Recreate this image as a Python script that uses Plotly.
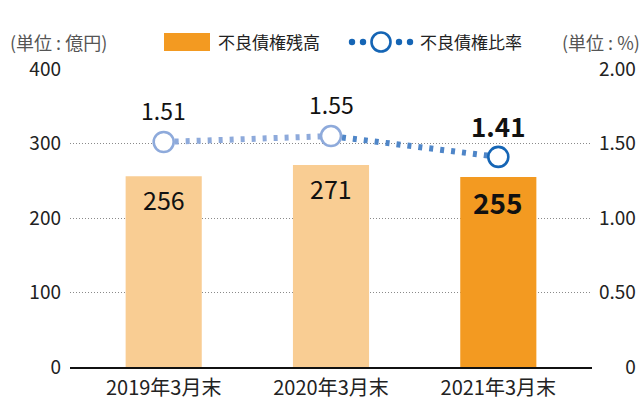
import plotly.graph_objects as go

categories = ["2019年3月末", "2020年3月末", "2021年3月末"]
balance = [256, 271, 255]          # 不良債権残高 (億円)
ratio = [1.51, 1.55, 1.41]         # 不良債権比率 (%)
left_ticks = [0, 100, 200, 300, 400]
right_ticks = [0, 0.5, 1.0, 1.5, 2.0]
right_tick_labels = ["\u2008\u2007\u20070", "0.50", "1.00", "1.50", "2.00"]

W, H = 643, 405
ML, MR, MT, MB = 70, 51, 69, 38
PW, PH = W - ML - MR, H - MT - MB

def px(x):
    return (x - ML) / PW

def py(y):
    return (H - MB - y) / PH

FONT = "Noto Sans CJK JP, Noto Sans, sans-serif"
LIGHT_ORANGE = "#f9cd93"
ORANGE = "#f39a21"
LIGHT_BLUE = "#8eaadb"
MID_BLUE = "#4f86c8"
DARK_BLUE = "#1565b5"

fig = go.Figure()

fig.add_trace(go.Bar(
    x=categories, y=balance,
    marker=dict(color=[LIGHT_ORANGE, LIGHT_ORANGE, ORANGE], line=dict(width=0)),
    width=0.455, yaxis="y", showlegend=False, hoverinfo="skip",
))

fig.add_trace(go.Scatter(
    x=categories[:2], y=ratio[:2], yaxis="y2", mode="lines",
    line=dict(color=LIGHT_BLUE, width=6, dash="4px,7px"),
    showlegend=False, hoverinfo="skip",
))
fig.add_trace(go.Scatter(
    x=categories[1:], y=ratio[1:], yaxis="y2", mode="lines",
    line=dict(color=MID_BLUE, width=6, dash="4px,7px"),
    showlegend=False, hoverinfo="skip",
))
fig.add_trace(go.Scatter(
    x=categories, y=ratio, yaxis="y2", mode="markers",
    marker=dict(size=20, color="white",
                line=dict(color=[LIGHT_BLUE, LIGHT_BLUE, DARK_BLUE], width=2.6)),
    showlegend=False, hoverinfo="skip",
))

annotations = []
for i, (c, v) in enumerate(zip(categories, balance)):
    last = i == len(categories) - 1
    annotations.append(dict(
        x=c, y=v, xref="x", yref="y", text=str(v), showarrow=False,
        yanchor="top", yshift=-3,
        font=dict(family=FONT, size=28 if last else 25, color="#111",
                  weight="bold" if last else "normal"),
    ))
for i, (c, v) in enumerate(zip(categories, ratio)):
    last = i == len(categories) - 1
    annotations.append(dict(
        x=c, y=v, xref="x", yref="y2", text=f"{v:.2f}", showarrow=False,
        yanchor="bottom", yshift=11 if last else 13,
        font=dict(family=FONT, size=26 if last else 23, color="#111",
                  weight="bold" if last else "normal"),
    ))

# unit labels
annotations.append(dict(x=px(8), y=py(42), xref="paper", yref="paper",
                        text="(単位 : 億円)", showarrow=False, xanchor="left",
                        yanchor="middle", font=dict(family=FONT, size=18, color="#555")))
annotations.append(dict(x=px(642), y=py(42), xref="paper", yref="paper",
                        text="(単位 : %)", showarrow=False, xanchor="right",
                        yanchor="middle", font=dict(family=FONT, size=18, color="#555")))
# legend texts
annotations.append(dict(x=px(216), y=py(42), xref="paper", yref="paper",
                        text="不良債権残高", showarrow=False, xanchor="left",
                        yanchor="middle", font=dict(family=FONT, size=17, color="#222")))
annotations.append(dict(x=px(418), y=py(42), xref="paper", yref="paper",
                        text="不良債権比率", showarrow=False, xanchor="left",
                        yanchor="middle", font=dict(family=FONT, size=17, color="#222")))

shapes = [
    dict(type="rect", xref="paper", yref="paper",
         x0=px(164), x1=px(210), y0=py(51), y1=py(33),
         fillcolor=ORANGE, line=dict(width=0)),
]
for cx in [352, 363, 399, 410]:
    shapes.append(dict(type="circle", xref="paper", yref="paper",
                       x0=px(cx - 3.2), x1=px(cx + 3.2), y0=py(42 + 3.2), y1=py(42 - 3.2),
                       fillcolor=DARK_BLUE, line=dict(width=0)))
shapes.append(dict(type="circle", xref="paper", yref="paper",
                   x0=px(371.5), x1=px(390.5), y0=py(51.5), y1=py(32.5),
                   fillcolor="white", line=dict(color=DARK_BLUE, width=2.6)))

fig.update_layout(
    width=W, height=H,
    margin=dict(l=ML, r=MR, t=MT, b=MB, pad=0),
    paper_bgcolor="white", plot_bgcolor="white",
    font=dict(family=FONT, size=19, color="#222"),
    bargap=0.5,
    xaxis=dict(
        type="category", range=[-0.56, 2.56], automargin=False,
        showline=True, linecolor="#111", linewidth=1.5,
        showgrid=False, ticks="", tickfont=dict(size=20, color="#222"),
        ticklabelstandoff=2,
        fixedrange=True,
    ),
    yaxis=dict(
        range=[0, 400], tickvals=left_ticks, showgrid=True, automargin=False,
        gridcolor="#8a8a8a", griddash="1px,2px", gridwidth=1,
        zeroline=False, showline=False, ticks="",
        tickfont=dict(size=19, color="#222"), ticklabelstandoff=8,
    ),
    yaxis2=dict(
        range=[0, 2], overlaying="y", side="right", automargin=False,
        tickvals=right_ticks, ticktext=right_tick_labels,
        showgrid=False, zeroline=False, showline=False, ticks="",
        tickfont=dict(size=19, color="#222"), ticklabelstandoff=6,
    ),
    annotations=annotations,
    shapes=shapes,
    showlegend=False,
)

fig.write_html("out.html", config={"displayModeBar": False},
               post_script="document.body.style.margin='0';")
